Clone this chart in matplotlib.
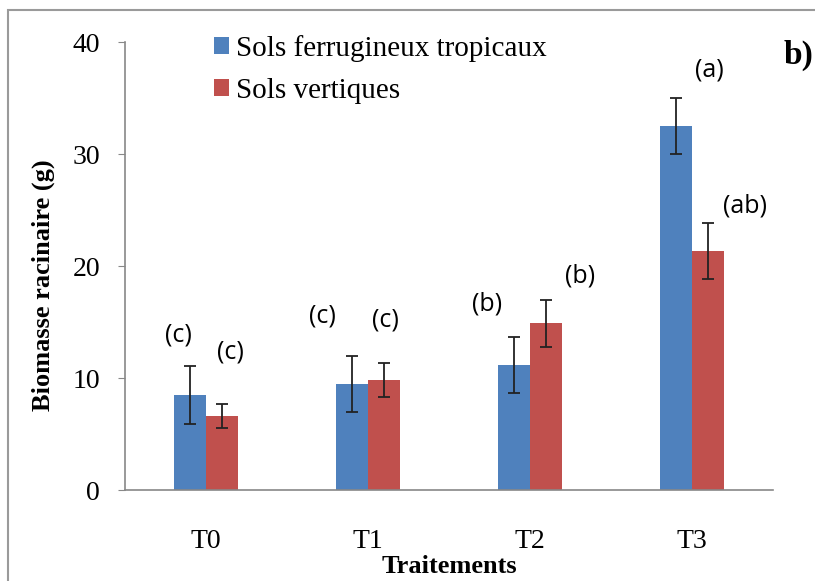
import numpy as np
import matplotlib.pyplot as plt
from matplotlib.patches import Rectangle

treatments = ["T0", "T1", "T2", "T3"]
ferrugineux = [8.5, 9.5, 11.2, 32.5]
ferrugineux_err = [2.6, 2.5, 2.5, 2.5]
vertiques = [6.6, 9.8, 14.9, 21.3]
vertiques_err = [1.1, 1.5, 2.1, 2.5]
letters_ferr = ["(c)", "(c)", "(b)", "(a)"]
letters_vert = ["(c)", "(c)", "(b)", "(ab)"]

serif = "Liberation Serif"
blue = "#4f81bd"
red = "#c0504d"

fig = plt.figure(figsize=(8.15, 5.81), dpi=100)
ax = fig.add_axes([0.1534, 0.1566, 0.7951, 0.7711])

x = np.arange(len(treatments))
w = 0.2
ekw = dict(ecolor="#222222", elinewidth=1.3, capsize=4, capthick=1.3)
ax.bar(x - w / 2, ferrugineux, w, color=blue, label="Sols ferrugineux tropicaux",
       yerr=ferrugineux_err, error_kw=ekw)
ax.bar(x + w / 2, vertiques, w, color=red, label="Sols vertiques",
       yerr=vertiques_err, error_kw=ekw)

# significance letters (offsets from bar top, placement only)
off_f = [(-0.17, 5.3), (-0.28, 6.0), (-0.265, 5.4), (0.11, 5.0)]
off_v = [(0.15, 5.7), (0.105, 5.4), (0.31, 4.2), (0.33, 4.1)]
for i in range(len(treatments)):
    ax.text(x[i] + off_f[i][0], ferrugineux[i] + off_f[i][1], letters_ferr[i],
            ha="center", va="center", fontsize=18, family="Open Sans")
    ax.text(x[i] + off_v[i][0], vertiques[i] + off_v[i][1], letters_vert[i],
            ha="center", va="center", fontsize=18, family="Open Sans")

ax.set_xlim(-0.5, 3.5)
ax.set_ylim(0, 40)
ax.set_yticks([0, 10, 20, 30, 40])
ax.set_xticks(x)
ax.set_xticklabels(treatments)
for lab in ax.get_xticklabels() + ax.get_yticklabels():
    lab.set_family(serif)
    lab.set_fontsize(20)
ax.tick_params(axis="x", length=0, pad=28)
ax.tick_params(axis="y", length=5, color="#888888", pad=13)
for s in ["top", "right"]:
    ax.spines[s].set_visible(False)
for s in ["left", "bottom"]:
    ax.spines[s].set_color("#888888")
    ax.spines[s].set_linewidth(1.2)

ax.set_xlabel("Traitements", family=serif, fontweight="bold", fontsize=19, labelpad=1)
ax.set_ylabel("Biomasse racinaire (g)", family=serif, fontweight="bold", fontsize=19)
ax.yaxis.set_label_coords(-0.108, 0.458)

leg = ax.legend(loc="upper left", bbox_to_anchor=(0.262, 0.94), bbox_transform=fig.transFigure,
                frameon=False, prop=dict(family=serif, size=21), handlelength=0.52, handleheight=0.52,
                handletextpad=0.25, labelspacing=0.55, borderpad=0, borderaxespad=0)

fig.text(0.962, 0.905, "b)", family=serif, fontweight="bold", fontsize=24, ha="left", va="center")

# outer frame
fig.patches.append(Rectangle((0.01, -0.1), 1.1, 1.083, transform=fig.transFigure,
                             fill=False, edgecolor="#9a9a9a", linewidth=1.5))

fig.savefig("out.png", dpi=100)
